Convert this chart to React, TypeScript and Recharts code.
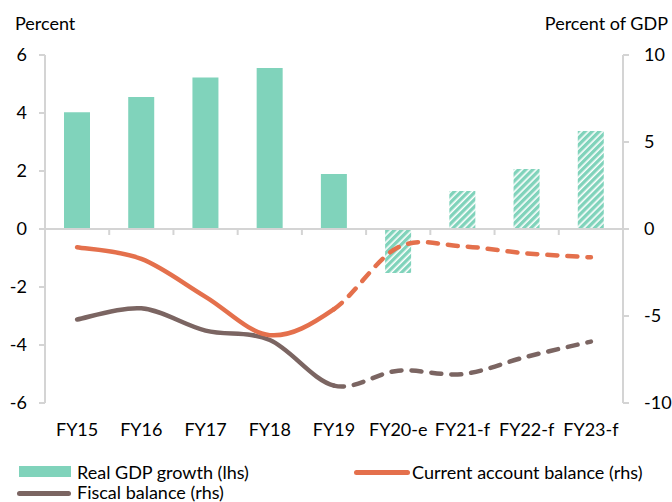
import { ComposedChart, Bar, Line, XAxis, YAxis, ReferenceLine, Cell } from 'recharts'

const categories = ['FY15', 'FY16', 'FY17', 'FY18', 'FY19', 'FY20-e', 'FY21-f', 'FY22-f', 'FY23-f']
const gdpGrowth = [4.03, 4.55, 5.22, 5.55, 1.9, -1.52, 1.31, 2.07, 3.38]
const currentAccount = [-1.05, -1.72, -3.9, -6.1, -4.6, -1.05, -1.0, -1.4, -1.63]
const fiscalBalance = [-5.2, -4.56, -5.84, -6.38, -9.0, -8.14, -8.34, -7.34, -6.47]
const leftTicks = [-6, -4, -2, 0, 2, 4, 6]
const rightTicks = [-10, -5, 0, 5, 10]
const lastActual = 4 // FY19: solid lines end here, dashed projections start

const GREEN = '#80d3bb'
const ORANGE = '#e4704c'
const BROWN = '#7b6562'
const GRID = '#d4d4d4'
const FONT = 'Lato, sans-serif'

const data = categories.map((name, i) => ({
  name,
  gdp: gdpGrowth[i],
  ca: currentAccount[i],
  fb: fiscalBalance[i],
  projected: name.includes('-'),
}))

// Excel-like smoothed line (Catmull-Rom through all points), drawing only segments from..to
const smoothPart = (from: number, to: number) => (ctx: any) => {
  let pts: [number, number][] = []
  return {
    areaStart() {},
    areaEnd() {},
    lineStart() { pts = [] },
    point(x: number, y: number) { pts.push([+x, +y]) },
    lineEnd() {
      const n = pts.length
      const P = (i: number) => pts[Math.max(0, Math.min(n - 1, i))]
      ctx.moveTo(P(from)[0], P(from)[1])
      for (let i = from; i < to && i < n - 1; i++) {
        const p0 = P(i - 1), p1 = P(i), p2 = P(i + 1), p3 = P(i + 2)
        ctx.bezierCurveTo(
          p1[0] + (p2[0] - p0[0]) / 6, p1[1] + (p2[1] - p0[1]) / 6,
          p2[0] - (p3[0] - p1[0]) / 6, p2[1] - (p3[1] - p1[1]) / 6,
          p2[0], p2[1],
        )
      }
    },
  }
}

const ZeroLine = (props: any) => {
  const { x1, x2, y1 } = props
  const step = (x2 - x1) / categories.length
  return (
    <g>
      <line x1={x1} x2={x2} y1={y1} y2={y1} stroke={GRID} strokeWidth={2} />
      {categories.slice(1).map((c, i) => (
        <line key={c} x1={x1 + step * (i + 1)} x2={x1 + step * (i + 1)} y1={y1} y2={y1 + 6} stroke={GRID} strokeWidth={2} />
      ))}
    </g>
  )
}

const tickStyle = { fontSize: 18, fill: '#000', fontFamily: FONT }
const label = { position: 'absolute' as const, fontSize: 18, lineHeight: '20px', fontFamily: FONT, color: '#000', whiteSpace: 'nowrap' as const }

export default function App() {
  return (
    <div style={{ position: 'absolute', left: 0, top: 0, width: 672, height: 502, background: '#fff', overflow: 'hidden' }}>
      <div style={{ ...label, left: 15, top: 13 }}>Percent</div>
      <div style={{ ...label, right: 4, top: 13 }}>Percent of GDP</div>
      <ComposedChart width={672} height={502} data={data} margin={{ top: 55, right: 0, left: 0, bottom: 69 }}>
        <defs>
          <pattern id="hatch" width="5" height="5" patternUnits="userSpaceOnUse" patternTransform="rotate(45)">
            <rect width="5" height="5" fill="#fff" />
            <rect width="3.4" height="5" fill={GREEN} />
          </pattern>
        </defs>
        <XAxis dataKey="name" axisLine={false} tickLine={false} tickSize={0} tickMargin={20} height={30} tick={tickStyle} interval={0} />
        <YAxis yAxisId="left" domain={[-6, 6]} ticks={leftTicks} width={45} axisLine={{ stroke: GRID, strokeWidth: 2 }}
          tickLine={{ stroke: GRID, strokeWidth: 2 }} tickSize={6} tickMargin={12} tick={tickStyle} />
        <YAxis yAxisId="right" orientation="right" domain={[-10, 10]} ticks={rightTicks} width={49}
          axisLine={{ stroke: GRID, strokeWidth: 2 }} tickLine={{ stroke: GRID, strokeWidth: 2 }} tickSize={6} tickMargin={15}
          tick={{ ...tickStyle, textAnchor: 'start' }} />
        <Bar yAxisId="left" dataKey="gdp" barSize={26} isAnimationActive={false}>
          {data.map(d => (
            <Cell key={d.name} fill={d.projected ? 'url(#hatch)' : GREEN} />
          ))}
        </Bar>
        <ReferenceLine yAxisId="left" y={0} shape={ZeroLine} />
        <Line yAxisId="right" dataKey="fb" type={smoothPart(0, lastActual) as any} stroke={BROWN} strokeWidth={4.5}
          strokeLinecap="round" dot={false} activeDot={false} isAnimationActive={false} />
        <Line yAxisId="right" dataKey="fb" type={smoothPart(lastActual, categories.length - 1) as any} stroke={BROWN} strokeWidth={4.5}
          strokeLinecap="round" strokeDasharray="10 10" dot={false} activeDot={false} isAnimationActive={false} />
        <Line yAxisId="right" dataKey="ca" type={smoothPart(0, lastActual) as any} stroke={ORANGE} strokeWidth={4.5}
          strokeLinecap="round" dot={false} activeDot={false} isAnimationActive={false} />
        <Line yAxisId="right" dataKey="ca" type={smoothPart(lastActual, categories.length - 1) as any} stroke={ORANGE} strokeWidth={4.5}
          strokeLinecap="round" strokeDasharray="10 10" dot={false} activeDot={false} isAnimationActive={false} />
      </ComposedChart>
      <div style={{ position: 'absolute', left: 19, top: 466, width: 52, height: 11, background: GREEN }} />
      <div style={{ ...label, left: 77, top: 462 }}>Real GDP growth (lhs)</div>
      <div style={{ position: 'absolute', left: 354, top: 470, width: 56, height: 4.5, borderRadius: 3, background: ORANGE }} />
      <div style={{ ...label, left: 412, top: 462 }}>Current account balance (rhs)</div>
      <div style={{ position: 'absolute', left: 17, top: 491, width: 54, height: 4.5, borderRadius: 3, background: BROWN }} />
      <div style={{ ...label, left: 77, top: 482 }}>Fiscal balance (rhs)</div>
    </div>
  )
}
